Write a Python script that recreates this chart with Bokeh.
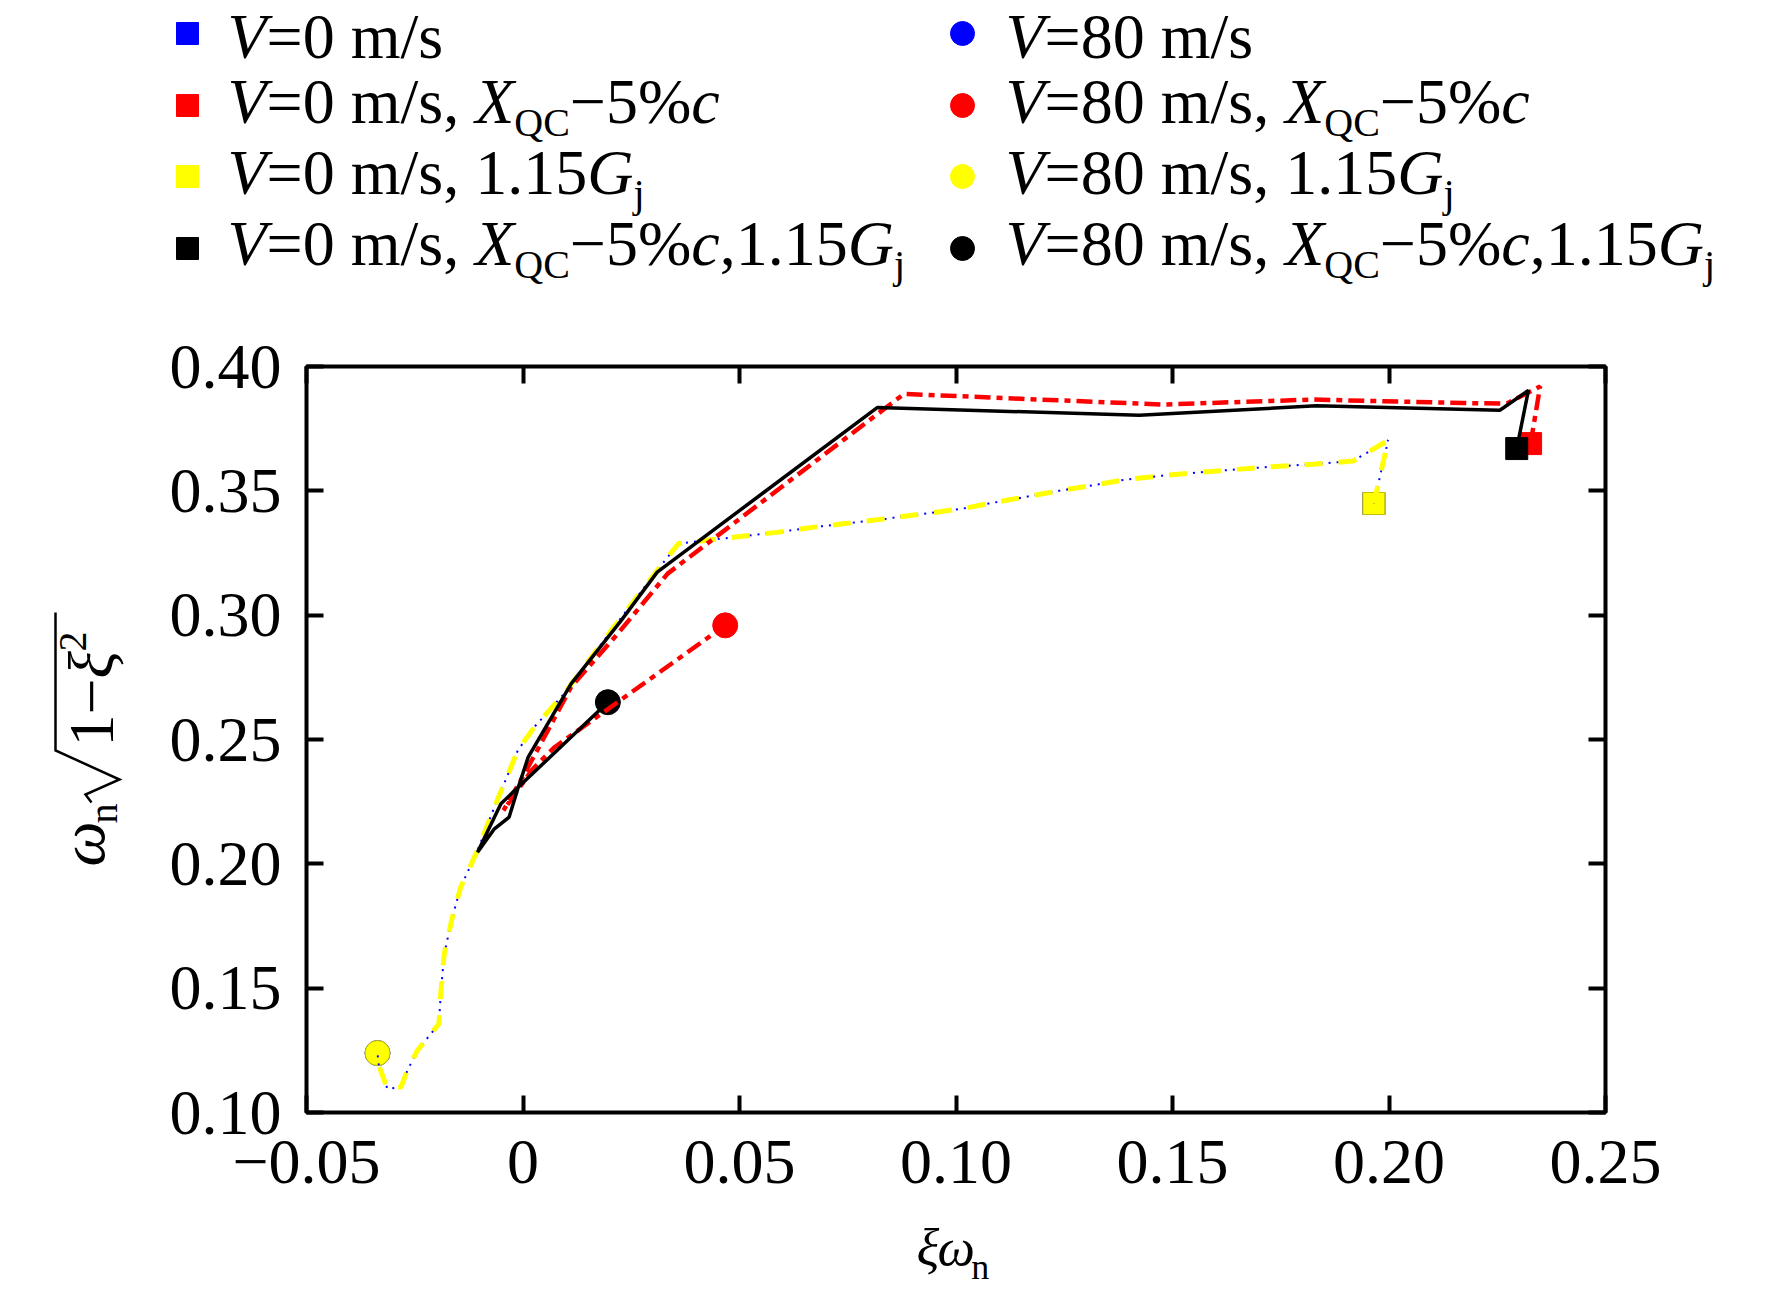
import math
from bokeh.plotting import figure
from bokeh.models import Range1d, FixedTicker, LinearAxis
from bokeh.layouts import column, row
from bokeh.embed import file_html
from bokeh.resources import INLINE
from bokeh.core.properties import value

# ---------------- data ----------------
xi_ticks = [-0.05, 0.0, 0.05, 0.10, 0.15, 0.20, 0.25]
xi_tick_labels = ["\u22120.05", "0", "0.05", "0.10", "0.15", "0.20", "0.25"]
om_ticks = [0.10, 0.15, 0.20, 0.25, 0.30, 0.35, 0.40]
om_tick_labels = ["0.10", "0.15", "0.20", "0.25", "0.30", "0.35", "0.40"]

# V = 0 m/s (blue, dotted) : follows the 1.15Gj path
base_x = [0.1965, 0.1998, 0.1917, 0.1824, 0.1720, 0.1639, 0.1553, 0.1477, 0.1391, 0.1315,
          0.1234, 0.1153, 0.1076, 0.1014, 0.0839, 0.0673, 0.0590, 0.0491, 0.0425, 0.0359,
          0.0310, 0.0210, 0.0095, 0.0026, -0.0012, -0.0066, -0.0105, -0.0144, -0.0163, -0.0182,
          -0.0190, -0.0194, -0.0244, -0.0267, -0.0282, -0.0313, -0.0333, -0.0336]
base_y = [0.3449, 0.3703, 0.3620, 0.3607, 0.3596, 0.3585, 0.3573, 0.3561, 0.3545, 0.3522,
          0.3499, 0.3473, 0.3449, 0.3428, 0.3388, 0.3354, 0.3334, 0.3314, 0.3301, 0.3288,
          0.3180, 0.2952, 0.2684, 0.2550, 0.2456, 0.2228, 0.2054, 0.1906, 0.1786, 0.1638,
          0.1477, 0.1357, 0.1249, 0.1169, 0.1102, 0.1095, 0.1189, 0.1239]

# X_QC - 5%c (red, dash-dot)
xqc_x = [0.2327, 0.2349, 0.2272, 0.2171, 0.1824, 0.1477, 0.1014, 0.0880, 0.0334, 0.0219,
         0.0111, 0.0037, -0.0005, -0.0045, 0.0020, 0.0072, 0.0467]
xqc_y = [0.3690, 0.3920, 0.3851, 0.3853, 0.3867, 0.3847, 0.3880, 0.3890, 0.3167, 0.2926,
         0.2711, 0.2470, 0.2336, 0.2215, 0.2376, 0.2468, 0.2959]

# 1.15 Gj (yellow, dashed)
gj_x = [0.1965, 0.1998, 0.1917, 0.1824, 0.1720, 0.1639, 0.1553, 0.1477, 0.1391, 0.1315,
        0.1234, 0.1153, 0.1076, 0.1014, 0.0839, 0.0673, 0.0590, 0.0491, 0.0425, 0.0359,
        0.0310, 0.0210, 0.0095, 0.0026, -0.0012, -0.0066, -0.0105, -0.0144, -0.0163, -0.0182,
        -0.0190, -0.0194, -0.0244, -0.0267, -0.0282, -0.0313, -0.0333, -0.0336]
gj_y = [0.3449, 0.3703, 0.3620, 0.3607, 0.3596, 0.3585, 0.3573, 0.3561, 0.3545, 0.3522,
        0.3499, 0.3473, 0.3449, 0.3428, 0.3388, 0.3354, 0.3334, 0.3314, 0.3301, 0.3288,
        0.3180, 0.2952, 0.2684, 0.2550, 0.2456, 0.2228, 0.2054, 0.1906, 0.1786, 0.1638,
        0.1477, 0.1357, 0.1249, 0.1169, 0.1102, 0.1095, 0.1189, 0.1239]

# X_QC - 5%c, 1.15 Gj (black, solid)
both_x = [0.2295, 0.2322, 0.2256, 0.1832, 0.1423, 0.0818, 0.0310, 0.0227, 0.0111, 0.0012,
          -0.0012, -0.0032, -0.0066, -0.0105, -0.0051, 0.0196]
both_y = [0.3670, 0.3904, 0.3824, 0.3842, 0.3804, 0.3835, 0.3173, 0.2979, 0.2724, 0.2429,
          0.2302, 0.2188, 0.2141, 0.2047, 0.2242, 0.2650]

series_x = [base_x, xqc_x, gj_x, both_x]
series_y = [base_y, xqc_y, gj_y, both_y]
series_colors = ["#0000ff", "#ff0000", "#ffff00", "#000000"]

# legend labels as runs: (text, style) style: r regular, i italic, s subscript
legend_v0 = [
    [("V", "i"), ("=0 m/s", "r")],
    [("V", "i"), ("=0 m/s, ", "r"), ("X", "i"), ("QC", "s"), ("\u22125%", "r"), ("c", "i")],
    [("V", "i"), ("=0 m/s, 1.15", "r"), ("G", "i"), ("j", "s")],
    [("V", "i"), ("=0 m/s, ", "r"), ("X", "i"), ("QC", "s"), ("\u22125%", "r"), ("c", "i"),
     (",1.15", "r"), ("G", "i"), ("j", "s")],
]
legend_v80 = [
    [("V", "i"), ("=80 m/s", "r")],
    [("V", "i"), ("=80 m/s, ", "r"), ("X", "i"), ("QC", "s"), ("\u22125%", "r"), ("c", "i")],
    [("V", "i"), ("=80 m/s, 1.15", "r"), ("G", "i"), ("j", "s")],
    [("V", "i"), ("=80 m/s, ", "r"), ("X", "i"), ("QC", "s"), ("\u22125%", "r"), ("c", "i"),
     (",1.15", "r"), ("G", "i"), ("j", "s")],
]

# ---------------- styling / layout ----------------
FONT = "Liberation Serif"
W = 1764
LEG_H = 300
TOTAL_H = 1295
LOW_H = TOTAL_H - LEG_H
MAIN_H = 1215 - LEG_H
LEFT_W = 150

REG = {' ': 0.25, '.': 0.25, ',': 0.25, '=': 0.564, '/': 0.278, 'm': 0.778, 's': 0.389,
       '%': 0.833, '\u2212': 0.564, 'Q': 0.722, 'C': 0.667, 'j': 0.278, 'n': 0.5}
ITA = {'V': 0.611, 'X': 0.611, 'c': 0.444, 'G': 0.722}
for d in "0123456789":
    REG[d] = 0.5

FS = 64
SUB = 40
SUB_DY = 13
KB = 0.34   # empirical baseline correction (fraction of font size)


def adv(txt, style):
    if style == "i":
        return sum(ITA.get(ch, 0.5) for ch in txt) * FS
    if style == "s":
        return sum(REG.get(ch, 0.5) for ch in txt) * SUB
    return sum(REG.get(ch, 0.5) for ch in txt) * FS


def blank(w, h, xr, yr):
    f = figure(width=w, height=h, x_range=xr, y_range=yr, output_backend="svg",
               toolbar_location=None, x_axis_type=None, y_axis_type=None, min_border=0)
    f.outline_line_color = None
    f.grid.visible = False
    return f


# ---- legend figure (coordinates are canvas pixels) ----
leg = blank(W, LEG_H, Range1d(0, W), Range1d(LEG_H, 0))
row_marker_y = [33, 105, 176, 248]
row_base_y = [58, 123, 194, 265]
cols = [(187, 227, "square", 22, legend_v0), (962, 1005, "circle", 24, legend_v80)]
runs = {"r": ([], [], []), "i": ([], [], []), "s": ([], [], [])}
for mx, tx, mk, ms, labels in cols:
    leg.scatter(x=[mx] * 4, y=row_marker_y, marker=mk, size=ms,
                fill_color=series_colors, line_color=series_colors)
    for k, lab in enumerate(labels):
        cx = tx
        for txt, st in lab:
            xs, ys, ts = runs[st]
            size = SUB if st == "s" else FS
            xs.append(cx)
            ys.append(row_base_y[k] + (SUB_DY if st == "s" else 0) - KB * size)
            ts.append(txt)
            cx += adv(txt, st)
for st, (xs, ys, ts) in runs.items():
    leg.text(x=xs, y=ys, text=ts, text_font=value(FONT),
             text_font_size=value(f"{SUB if st == 's' else FS}px"),
             text_font_style="italic" if st == "i" else "normal",
             text_baseline="alphabetic", text_align="left", text_color="black")

# ---- main figure ----
p = figure(width=W - LEFT_W, height=MAIN_H, x_range=Range1d(-0.05, 0.25),
           y_range=Range1d(0.10, 0.40), output_backend="svg", toolbar_location=None,
           min_border_left=306 - LEFT_W, min_border_right=W - 1605,
           min_border_top=366 - LEG_H, min_border_bottom=LEG_H + MAIN_H - 1112)
p.outline_line_color = "black"
p.outline_line_width = 4
p.grid.visible = False
p.background_fill_color = "white"


def style_axis(ax, ticks, labels, show, standoff):
    ax.ticker = FixedTicker(ticks=ticks)
    ax.major_label_overrides = {t: (l if show else "") for t, l in zip(ticks, labels)}
    ax.axis_line_color = None
    ax.major_tick_in = 17
    ax.major_tick_out = 0
    ax.major_tick_line_width = 4
    ax.major_tick_line_color = "black"
    ax.minor_tick_line_color = None
    ax.major_label_text_font = FONT
    ax.major_label_text_font_size = f"{FS}px" if show else "1px"
    ax.major_label_text_color = "black"
    ax.major_label_standoff = standoff


style_axis(p.xaxis[0], xi_ticks, xi_tick_labels, True, 28)
style_axis(p.yaxis[0], om_ticks, om_tick_labels, True, 25)
ax_top = LinearAxis()
ax_right = LinearAxis()
style_axis(ax_top, xi_ticks, xi_tick_labels, False, 0)
style_axis(ax_right, om_ticks, om_tick_labels, False, 0)
p.add_layout(ax_top, "above")
p.add_layout(ax_right, "right")

# markers first (start = V=0 square, end = V=80 circle)
for xs, ys, c in zip(series_x, series_y, series_colors):
    lc = "#c0c000" if c == "#ffff00" else c
    p.scatter(x=[xs[0]], y=[ys[0]], marker="square", size=22, fill_color=c, line_color=lc)
for xs, ys, c in zip(series_x, series_y, series_colors):
    lc = "#c0c000" if c == "#ffff00" else c
    p.scatter(x=[xs[-1]], y=[ys[-1]], marker="circle", size=25, fill_color=c, line_color=lc)

# lines
p.line(base_x, base_y, line_color="#0000ff", line_width=2, line_dash="2 6")
p.line(gj_x, gj_y, line_color="#ffff00", line_width=5, line_dash="18 16")
p.line(xqc_x, xqc_y, line_color="#ff0000", line_width=4.5, line_dash="16 6 6 6")
p.line(both_x, both_y, line_color="#000000", line_width=3.5)

# ---- y label figure (rotated text, canvas pixel coordinates) ----
ylab = blank(LEFT_W, LOW_H, Range1d(0, LEFT_W), Range1d(LEG_H + LOW_H, LEG_H))


def ytext(bx, y, txt, size, italic=False):
    ylab.text(x=[bx - KB * size], y=[y], text=[txt], angle=math.pi / 2,
              text_font=value(FONT), text_font_size=value(f"{size}px"),
              text_font_style="italic" if italic else "normal",
              text_baseline="alphabetic", text_align="left", text_color="black")


ytext(104, 866, "\u03c9", 64, True)
ytext(117, 823, "n", 40)
ytext(113, 746, "1\u2212", 64)
ytext(113, 678, "\u03be", 64, True)
ytext(86, 651, "2", 40)
# radical sign drawn as a stroke (rotated), with its overline
ylab.line(x=[91, 85, 119, 55, 55], y=[802, 794, 779, 750, 612],
          line_color="black", line_width=2.5, line_join="miter")

# ---- x label figure ----
XL_H = LOW_H - MAIN_H
XF = 53
xlab = blank(W - LEFT_W, XL_H, Range1d(LEFT_W, W), Range1d(LEG_H + LOW_H, LEG_H + MAIN_H))
xlab.text(x=[908, 934], y=[1265 - KB * XF] * 2, text=["\u03be", "\u03c9"],
          text_font=value(FONT), text_font_size=value(f"{XF}px"), text_font_style="italic",
          text_baseline="alphabetic", text_align="left", text_color="black")
xlab.text(x=[976], y=[1279 - KB * 36], text=["n"],
          text_font=value(FONT), text_font_size=value("36px"),
          text_baseline="alphabetic", text_align="left", text_color="black")

layout = column(leg, row(ylab, column(p, xlab, spacing=0), spacing=0), spacing=0)
open("out.html", "w").write(file_html(layout, INLINE))
